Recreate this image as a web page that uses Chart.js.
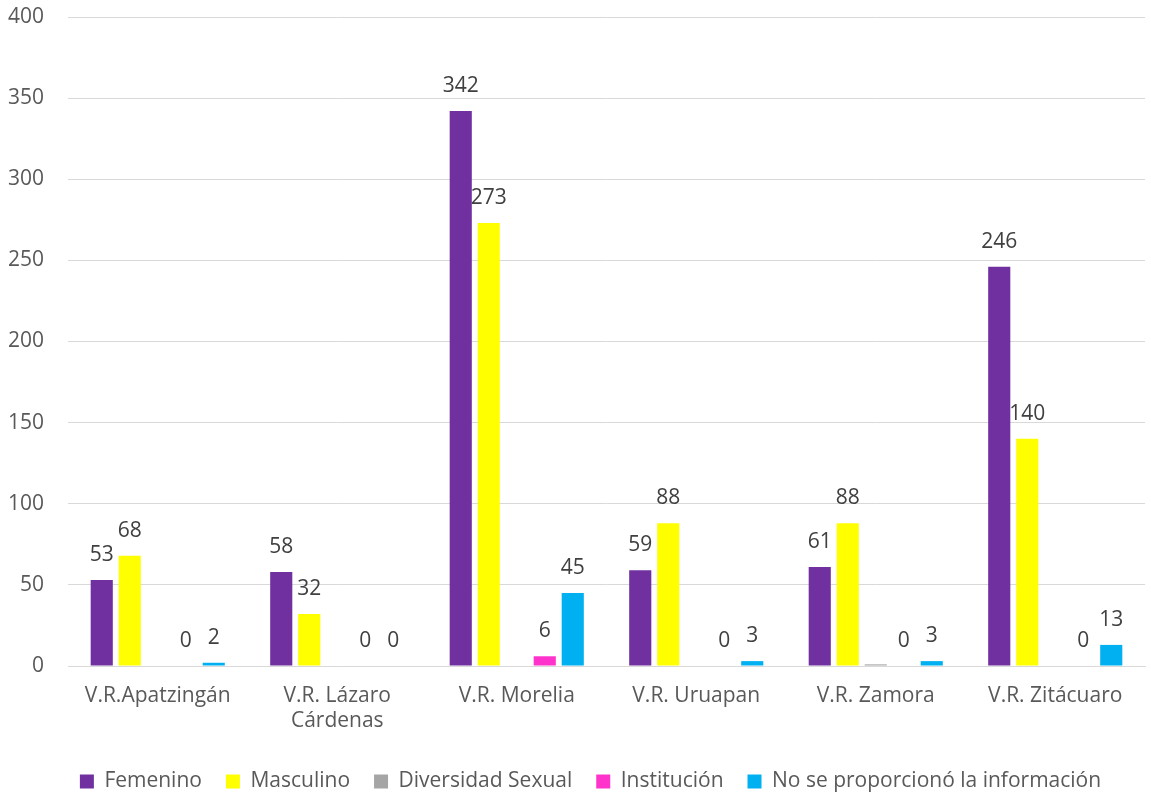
<!DOCTYPE html>
<html>
<head>
<meta charset="utf-8">
<script src="https://cdn.jsdelivr.net/npm/chart.js@4.4.0/dist/chart.umd.min.js"></script>
<style>
  html, body { margin: 0; padding: 0; background: #fff; }
  #wrap { width: 1151px; height: 793px; }
</style>
</head>
<body>
<div id="wrap"><canvas id="chart" width="1151" height="793"></canvas></div>
<script>
// Chart data
const categories = ['V.R.Apatzingán', ['V.R. Lázaro', 'Cárdenas'], 'V.R. Morelia', 'V.R. Uruapan', 'V.R. Zamora', 'V.R. Zitácuaro'];
const femenino = [53, 58, 342, 59, 61, 246];
const masculino = [68, 32, 273, 88, 88, 140];
const diversidad = [null, null, null, null, 1, null];
const institucion = [0, 0, 6, 0, 0, 0];
const noInfo = [2, 0, 45, 3, 3, 13];
const yTicks = [0, 50, 100, 150, 200, 250, 300, 350, 400];

const FONT = "'Open Sans', sans-serif";
const SIZE = 21;

// Draw value labels above bars (Diversidad Sexual has no labels in the original)
const valueLabels = {
    id: 'valueLabels',
    afterDatasetsDraw(chart) {
        const ctx = chart.ctx;
        ctx.save();
        ctx.font = SIZE + 'px ' + FONT;
        ctx.fillStyle = '#404040';
        ctx.textAlign = 'center';
        ctx.textBaseline = 'middle';
        chart.data.datasets.forEach((ds, i) => {
            if (ds.noLabels) return;
            chart.getDatasetMeta(i).data.forEach((bar, j) => {
                const v = ds.data[j];
                if (v === null || v === undefined) return;
                ctx.fillText(String(v), bar.x, bar.y - 25);
            });
        });
        ctx.restore();
    }
};

// Legend sits a little right of centre in the original
const legendShift = {
    id: 'legendShift',
    afterLayout(chart) {
        const lg = chart.legend;
        if (!lg) return;
        lg.left += 14;
        lg.right += 14;
        (lg.legendHitBoxes || []).forEach(b => { b.left += 14; });
    }
};

const ctx = document.getElementById('chart').getContext('2d');
const chart = new Chart(ctx, {
    type: 'bar',
    data: {
        labels: categories,
        datasets: [
            { label: 'Femenino', data: femenino, backgroundColor: '#7030A0' },
            { label: 'Masculino', data: masculino, backgroundColor: '#FFFF00' },
            { label: 'Diversidad Sexual', data: diversidad, backgroundColor: '#A5A5A5', noLabels: true },
            { label: 'Institución', data: institucion, backgroundColor: '#FF33CC' },
            { label: 'No se proporcionó la información', data: noInfo, backgroundColor: '#00B0F0' }
        ]
    },
    options: {
        responsive: false,
        animation: false,
        devicePixelRatio: 1,
        categoryPercentage: 0.78,
        barPercentage: 0.79,
        layout: { padding: { top: 17, right: 6, left: 8, bottom: 0 } },
        plugins: {
            legend: {
                position: 'bottom',
                maxHeight: 46,
                labels: {
                    font: { family: FONT, size: SIZE },
                    color: '#595959',
                    boxWidth: 14,
                    boxHeight: 14,
                    padding: 24
                }
            },
            tooltip: { enabled: false }
        },
        scales: {
            x: {
                grid: { display: false, drawTicks: false },
                border: { color: '#D9D9D9', width: 1 },
                ticks: {
                    font: { family: FONT, size: SIZE },
                    color: '#595959',
                    padding: 17,
                    maxRotation: 0
                },
                afterFit: s => { s.height = 81; s.paddingLeft = 0; s.paddingRight = 0; }
            },
            y: {
                min: 0,
                max: 400,
                afterBuildTicks: axis => { axis.ticks = yTicks.map(v => ({ value: v })); },
                grid: { color: '#D9D9D9', lineWidth: 1, drawTicks: false },
                border: { display: false },
                ticks: {
                    font: { family: FONT, size: SIZE },
                    color: '#595959',
                    padding: 24
                },
                afterFit: s => { s.width = 60; s.paddingTop = 0; s.paddingBottom = 0; }
            }
        }
    },
    plugins: [valueLabels, legendShift]
});
</script>
</body>
</html>
